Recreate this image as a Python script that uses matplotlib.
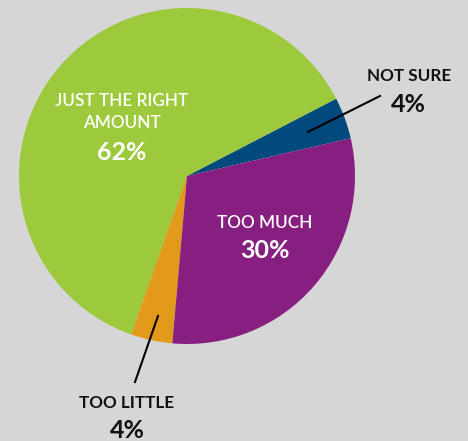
import matplotlib
matplotlib.use("Agg")
import matplotlib.pyplot as plt

categories = ["NOT SURE", "JUST THE RIGHT\nAMOUNT", "TOO LITTLE", "TOO MUCH"]
values = [4, 62, 4, 30]
colors = ["#014a7e", "#9dc93c", "#e39a1b", "#861f80"]

W, H = 468, 441
fig = plt.figure(figsize=(W / 100, H / 100), dpi=100)
fig.patch.set_facecolor("#d6d6d6")
ax = fig.add_axes([0, 0, 1, 1])
ax.set_xlim(0, W)
ax.set_ylim(0, H)
ax.set_aspect("equal")
ax.axis("off")

cx, cy, r = 187, H - 176, 168
ax.pie(values, colors=colors, startangle=13, counterclock=True,
       center=(cx, cy), radius=r, frame=True,
       wedgeprops=dict(linewidth=0.5, edgecolor="none"))
ax.set_xlim(0, W)
ax.set_ylim(0, H)
ax.axis("off")

fam = ["Lato", "DejaVu Sans"]
def label(x, y, txt, size, color, weight):
    ax.text(x, H - y, txt, ha="center", va="center", fontsize=size,
            color=color, fontweight=weight, family=fam, linespacing=1.5)

# labels
label(122, 112, categories[1], 12.3, "white", "semibold")
label(122, 152, f"{values[1]}%", 18, "white", "bold")
label(265, 223, categories[3], 12.3, "white", "semibold")
label(265, 250, f"{values[3]}%", 18, "white", "bold")
label(409, 76, categories[0], 12.3, "#111111", "bold")
label(408, 104, f"{values[0]}%", 18, "#111111", "bold")
label(127, 403, categories[2], 12.3, "#111111", "bold")
label(127, 430, f"{values[2]}%", 18, "#111111", "bold")

# leader lines
ax.plot([380, 308], [H - 96, H - 132], color="black", lw=1.5)
ax.plot([158, 135], [H - 316, H - 382], color="black", lw=1.5)

fig.savefig("out.png", dpi=100, facecolor=fig.get_facecolor())
